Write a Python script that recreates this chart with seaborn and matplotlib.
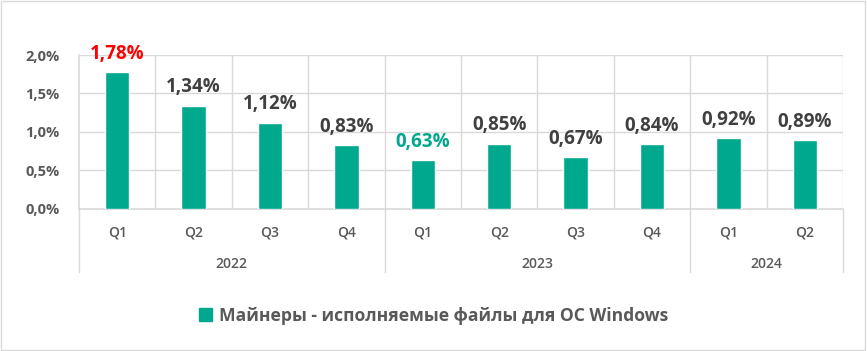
import matplotlib
matplotlib.use("Agg")
import matplotlib.pyplot as plt
import matplotlib.transforms as mtransforms
from matplotlib.patches import Patch, Rectangle
from matplotlib.ticker import FuncFormatter
import pandas as pd
import seaborn as sns

# data
quarters = ['Q1', 'Q2', 'Q3', 'Q4', 'Q1', 'Q2', 'Q3', 'Q4', 'Q1', 'Q2']
years = ['2022'] * 4 + ['2023'] * 4 + ['2024'] * 2
values = [1.78, 1.34, 1.12, 0.83, 0.63, 0.85, 0.67, 0.84, 0.92, 0.89]
series_name = 'Майнеры - исполняемые файлы для ОС Windows'

BAR = '#00A88E'
GRID = '#D9D9D9'
TXT = '#404040'

sns.set_theme(style='white')
plt.rcParams['font.family'] = ['Open Sans', 'DejaVu Sans']

df = pd.DataFrame({'period': [f'{y} {q}' for y, q in zip(years, quarters)],
                   'value': values})

fig = plt.figure(figsize=(8.67, 3.51), dpi=100)
ax = fig.add_axes([0.0911, 0.4046, 0.8812, 0.4387])

sns.barplot(data=df, x='period', y='value', order=list(df['period']),
            color=BAR, width=0.32, saturation=1, ax=ax, zorder=3)

ax.set_ylim(0, 2.0)
ax.set_xlim(-0.5, len(values) - 0.5)
ax.set_yticks([0, 0.5, 1.0, 1.5, 2.0])
ax.yaxis.set_major_formatter(FuncFormatter(lambda v, p: f'{v:.1f}%'.replace('.', ',')))
ax.set_xlabel('')
ax.set_ylabel('')

# grid
ax.grid(False)
for yv in [0.5, 1.0, 1.5, 2.0]:
    ax.axhline(yv, color=GRID, lw=1, zorder=1)
for xv in range(len(values)):
    ax.axvline(xv + 0.5, color=GRID, lw=1, zorder=1)
for side in ['top', 'right']:
    ax.spines[side].set_visible(False)
ax.spines['left'].set_color(GRID)
ax.spines['bottom'].set_color(GRID)

for lab in ax.get_yticklabels():
    lab.set_fontweight('bold')
ax.tick_params(axis='y', length=0, pad=14, labelsize=10.5, labelcolor='#595959')
ax.set_xticks(range(len(values)))
ax.set_xticklabels(quarters)
ax.tick_params(axis='x', length=0, pad=12, labelsize=10, labelcolor='#595959')
for lab in ax.get_xticklabels():
    lab.set_fontweight('semibold')

# data labels
lab_colors = [TXT] * len(values)
lab_colors[0] = '#FF0000'
lab_colors[4] = BAR
for i, v in enumerate(values):
    ax.annotate(f'{v:.2f}%'.replace('.', ','), (i, v), xytext=(0, 6),
                textcoords='offset points', ha='center', va='bottom',
                fontsize=13.5, fontweight='bold', color=lab_colors[i],
                clip_on=False, zorder=5)

# year groups below axis
trans = mtransforms.blended_transform_factory(ax.transData, ax.transAxes)
groups = []
for i, y in enumerate(years):
    if not groups or groups[-1][0] != y:
        groups.append([y, i, i])
    else:
        groups[-1][2] = i
bounds = [-0.5] + [g[2] + 0.5 for g in groups]
for b in bounds:
    ax.plot([b, b], [0, -0.41], color=GRID, lw=1, transform=trans, clip_on=False)
for y, a, b in groups:
    ax.text((a + b) / 2, -0.355, y, transform=trans, ha='center', va='center',
            fontsize=10, fontweight='semibold', color='#595959')

# legend
fig.legend(handles=[Patch(facecolor=BAR, edgecolor=BAR)], labels=[series_name],
           loc='center', bbox_to_anchor=(0.5, 0.1), frameon=False,
           handlelength=0.75, handleheight=0.75, handletextpad=0.4,
           prop={'size': 12.6, 'weight': 'bold'}, labelcolor='#595959')

# outer border
fig.patches.append(Rectangle((0.001, 0.002), 0.997, 0.995, transform=fig.transFigure,
                             fill=False, edgecolor=GRID, lw=1))

fig.savefig('out.png', dpi=100)
